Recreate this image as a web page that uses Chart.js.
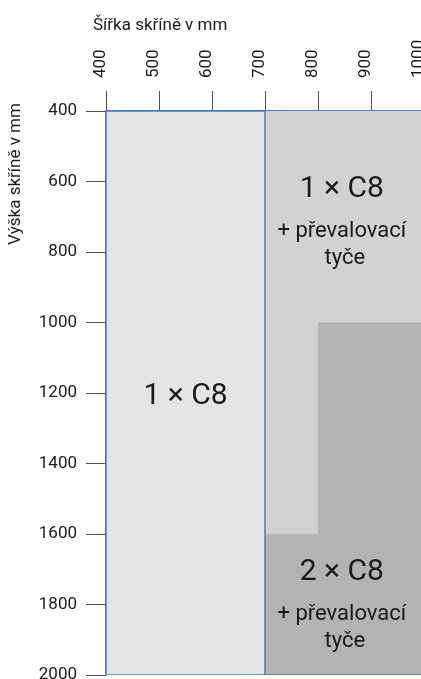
<!DOCTYPE html>
<html>
<head>
<meta charset="utf-8">
<script src="https://cdn.jsdelivr.net/npm/chart.js@4"></script>
<style>
  html, body { margin: 0; padding: 0; background: #fff; overflow: hidden; }
  #wrap { width: 430px; height: 679px; }
</style>
</head>
<body>
<div id="wrap"><canvas id="chart"></canvas></div>
<script>
// cabinet width (x) and height (y), in mm
const widthTicks = [400, 500, 600, 700, 800, 900, 1000];
const heightTicks = [400, 600, 800, 1000, 1200, 1400, 1600, 1800, 2000];

// zone outlines: width / height corner values
const zone1W = [400, 700, 700, 400, 400];
const zone1H = [400, 400, 2000, 2000, 400];
const zone2W = [700, 1000, 1000, 800, 800, 700, 700];
const zone2H = [400, 400, 1000, 1000, 1600, 1600, 400];
const zone3W = [800, 1000, 1000, 700, 700, 800, 800];
const zone3H = [1000, 1000, 2000, 2000, 1600, 1600, 1000];
const edgeW = [700, 1000];
const edgeH = [2000, 2000];

const zoneLabels = ["1 × C8", "1 × C8", "2 × C8"];
const zoneNotes = [[], ["+ převalovací", "tyče"], ["+ převalovací", "tyče"]];

const FONT = "Roboto, 'Liberation Sans', sans-serif";
const BLUE = "#4a7cbf";

function pts(xs, ys) {
  return xs.map((x, i) => ({x: x, y: ys[i]}));
}

const textPlugin = {
  id: 'zoneText',
  afterDatasetsDraw(chart) {
    const ctx = chart.ctx;
    const xs = chart.scales.x, ys = chart.scales.y;
    // where each label sits, in mm
    const at = [[550, 1200], [845, 615], [845, 1700]];
    ctx.save();
    ctx.fillStyle = "#1a1a1a";
    ctx.textAlign = "center";
    ctx.textBaseline = "middle";
    at.forEach((p, i) => {
      const px = xs.getPixelForValue(p[0]);
      const py = ys.getPixelForValue(p[1]) + 3;
      ctx.font = "30px " + FONT;
      ctx.fillText(zoneLabels[i], px, py);
      ctx.font = "22px " + FONT;
      zoneNotes[i].forEach((t, j) => {
        ctx.fillText(t, px + (j === 1 ? 3 : 0), py + 42 + j * 27);
      });
    });
    ctx.restore();
  },
  afterDraw(chart) {
    const ctx = chart.ctx;
    ctx.save();
    ctx.fillStyle = "#1a1a1a";
    ctx.font = "17px " + FONT;
    ctx.textBaseline = "middle";
    ctx.textAlign = "left";
    ctx.fillText("Šířka skříně v mm", 93, 26);
    ctx.translate(16, 174);
    ctx.rotate(-Math.PI / 2);
    ctx.textAlign = "center";
    ctx.fillText("Výška skříně v mm", 0, 0);
    ctx.restore();
  }
};

new Chart(document.getElementById("chart"), {
  type: 'scatter',
  data: {
    datasets: [
      {data: pts(edgeW, edgeH), borderColor: BLUE, borderWidth: 1.5, fill: false},
      {data: pts(zone1W, zone1H), backgroundColor: "#e4e4e4", borderColor: BLUE, borderWidth: 1.5, fill: 'shape'},
      {data: pts(zone3W, zone3H), backgroundColor: "#b3b3b3", borderColor: "#c2c2c2", borderWidth: 1, fill: 'shape'},
      {data: pts(zone2W, zone2H), backgroundColor: "#d2d2d2", borderWidth: 0, fill: 'shape'}
    ]
  },
  options: {
    responsive: true,
    maintainAspectRatio: false,
    animation: false,
    showLine: true,
    elements: {point: {radius: 0, hoverRadius: 0}, line: {tension: 0}},
    layout: {padding: {top: 0, right: 6, bottom: 4, left: 0}},
    plugins: {legend: {display: false}, tooltip: {enabled: false}},
    scales: {
      x: {
        type: 'linear', position: 'top', min: 400, max: 1000,
        afterBuildTicks: s => { s.ticks = widthTicks.map(v => ({value: v})); },
        afterFit: s => { s.height = 111; s.paddingLeft = 0; s.paddingRight = 0; },
        grid: {drawOnChartArea: false, tickLength: 20, color: "#555"},
        border: {display: true, color: BLUE, width: 1.5},
        ticks: {minRotation: 90, maxRotation: 90, padding: 13, labelOffset: 15,
                callback: v => String(v), color: "#1a1a1a", font: {family: FONT, size: 17}}
      },
      y: {
        type: 'linear', reverse: true, min: 400, max: 2000,
        afterBuildTicks: s => { s.ticks = heightTicks.map(v => ({value: v})); },
        afterFit: s => { s.width = 106; s.paddingTop = 0; s.paddingBottom = 0; },
        grid: {drawOnChartArea: false, tickLength: 20, color: "#555"},
        border: {display: true, color: BLUE, width: 1.5},
        ticks: {padding: 9, callback: v => String(v), color: "#1a1a1a", font: {family: FONT, size: 17}}
      }
    }
  },
  plugins: [textPlugin]
});
</script>
</body>
</html>
